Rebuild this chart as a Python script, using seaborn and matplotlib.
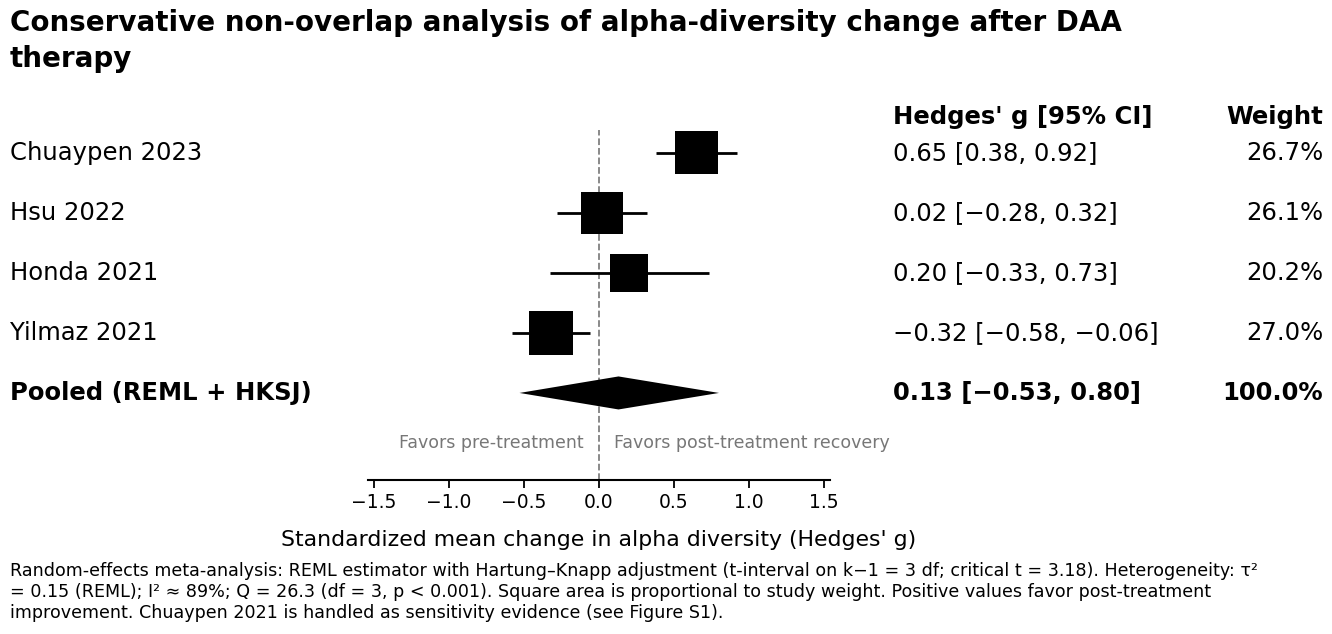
import numpy as np
import pandas as pd
import seaborn as sns
import matplotlib.pyplot as plt
import matplotlib.transforms as mtransforms

# study-level data
studies = ['Chuaypen 2023', 'Hsu 2022', 'Honda 2021', 'Yilmaz 2021']
g = [0.65, 0.02, 0.20, -0.32]
ci_low = [0.38, -0.28, -0.33, -0.58]
ci_high = [0.92, 0.32, 0.73, -0.06]
weight = [26.7, 26.1, 20.2, 27.0]

# pooled estimate
pooled_label = 'Pooled (REML + HKSJ)'
pooled_g = 0.13
pooled_low = -0.53
pooled_high = 0.80

xticks = [-1.5, -1.0, -0.5, 0.0, 0.5, 1.0, 1.5]

title = 'Conservative non-overlap analysis of alpha-diversity change after DAA\ntherapy'
footnote = ('Random-effects meta-analysis: REML estimator with Hartung\u2013Knapp adjustment (t-interval on k\u22121 = 3 df; critical t = 3.18). Heterogeneity: \u03c4\u00b2\n'
            '= 0.15 (REML); I\u00b2 \u2248 89%; Q = 26.3 (df = 3, p < 0.001). Square area is proportional to study weight. Positive values favor post-treatment\n'
            'improvement. Chuaypen 2021 is handled as sensitivity evidence (see Figure S1).')


def fmt(v):
    return f'{v:.2f}'.replace('-', '\u2212')


sns.set_style('ticks')
plt.rcParams['font.family'] = ['DejaVu Sans']
plt.rcParams.update({'text.color': 'black', 'axes.labelcolor': 'black',
                     'xtick.color': 'black', 'axes.edgecolor': 'black'})

fig = plt.figure(figsize=(13.32, 6.34), dpi=100)
ax = fig.add_axes([368 / 1332, 1 - 480 / 634, 462 / 1332, 350 / 634])

rows = np.arange(len(studies))
df = pd.DataFrame({'g': g, 'row': rows, 'weight': weight})

# CI whiskers
ax.hlines(rows, ci_low, ci_high, color='black', lw=2, zorder=2)

# squares, area proportional to weight
sns.scatterplot(data=df, x='g', y='row', size='weight', size_norm=(0, max(weight)),
                sizes=(0, 36 * max(weight)), marker='s', color='black',
                linewidth=0, legend=False, ax=ax, zorder=3)

# pooled diamond
py = len(studies)
ax.fill([pooled_low, pooled_g, pooled_high, pooled_g],
        [py, py - 0.275, py, py + 0.275], color='black', lw=0, zorder=3)

ax.axvline(0, color='gray', ls='--', lw=1.3, zorder=1)

ax.set_xlim(-1.54, 1.54)
ax.set_ylim(5.45, -0.38)
ax.set_xticks(xticks)
ax.set_xticklabels([f'{t:.1f}'.replace('-', '\u2212') for t in xticks])
ax.set_yticks([])
ax.set_ylabel('')
ax.tick_params(axis='x', labelsize=13.5, length=6, width=1.3, pad=3)
ax.spines['bottom'].set_linewidth(1.5)
sns.despine(ax=ax, left=True)
ax.set_xlabel("Standardized mean change in alpha diversity (Hedges' g)", fontsize=15.8, labelpad=13)

ax.text(-0.1, 4.83, 'Favors pre-treatment', ha='right', va='center', fontsize=12.5, color='#777777')
ax.text(0.1, 4.83, 'Favors post-treatment recovery', ha='left', va='center', fontsize=12.5, color='#777777')

# text columns (x in figure coords, y in data rows)
trans = mtransforms.blended_transform_factory(fig.transFigure, ax.transData)
fs = 17.5
ax.text(893 / 1332, -0.6, "Hedges' g [95% CI]", transform=trans, ha='left', va='center',
        fontsize=fs, fontweight='bold', clip_on=False)
ax.text(1323 / 1332, -0.6, 'Weight', transform=trans, ha='right', va='center',
        fontsize=fs, fontweight='bold', clip_on=False)
for i, name in enumerate(studies):
    ax.text(10 / 1332, i, name, transform=trans, ha='left', va='center', fontsize=fs, clip_on=False)
    ax.text(893 / 1332, i, f'{fmt(g[i])} [{fmt(ci_low[i])}, {fmt(ci_high[i])}]', transform=trans,
            ha='left', va='center', fontsize=fs, clip_on=False)
    ax.text(1323 / 1332, i, f'{weight[i]:.1f}%', transform=trans, ha='right', va='center',
            fontsize=fs, clip_on=False)
ax.text(10 / 1332, py, pooled_label, transform=trans, ha='left', va='center', fontsize=fs,
        fontweight='bold', clip_on=False)
ax.text(893 / 1332, py, f'{fmt(pooled_g)} [{fmt(pooled_low)}, {fmt(pooled_high)}]', transform=trans,
        ha='left', va='center', fontsize=fs, fontweight='bold', clip_on=False)
ax.text(1323 / 1332, py, f'{sum(weight):.1f}%', transform=trans, ha='right', va='center',
        fontsize=fs, fontweight='bold', clip_on=False)

fig.text(10 / 1332, 1 - 9 / 634, title, ha='left', va='top', fontsize=20, fontweight='bold',
         linespacing=1.38)
fig.text(10 / 1332, 1 - 562 / 634, footnote, ha='left', va='top', fontsize=12.6, linespacing=1.22)

fig.savefig('out.png', dpi=100)
